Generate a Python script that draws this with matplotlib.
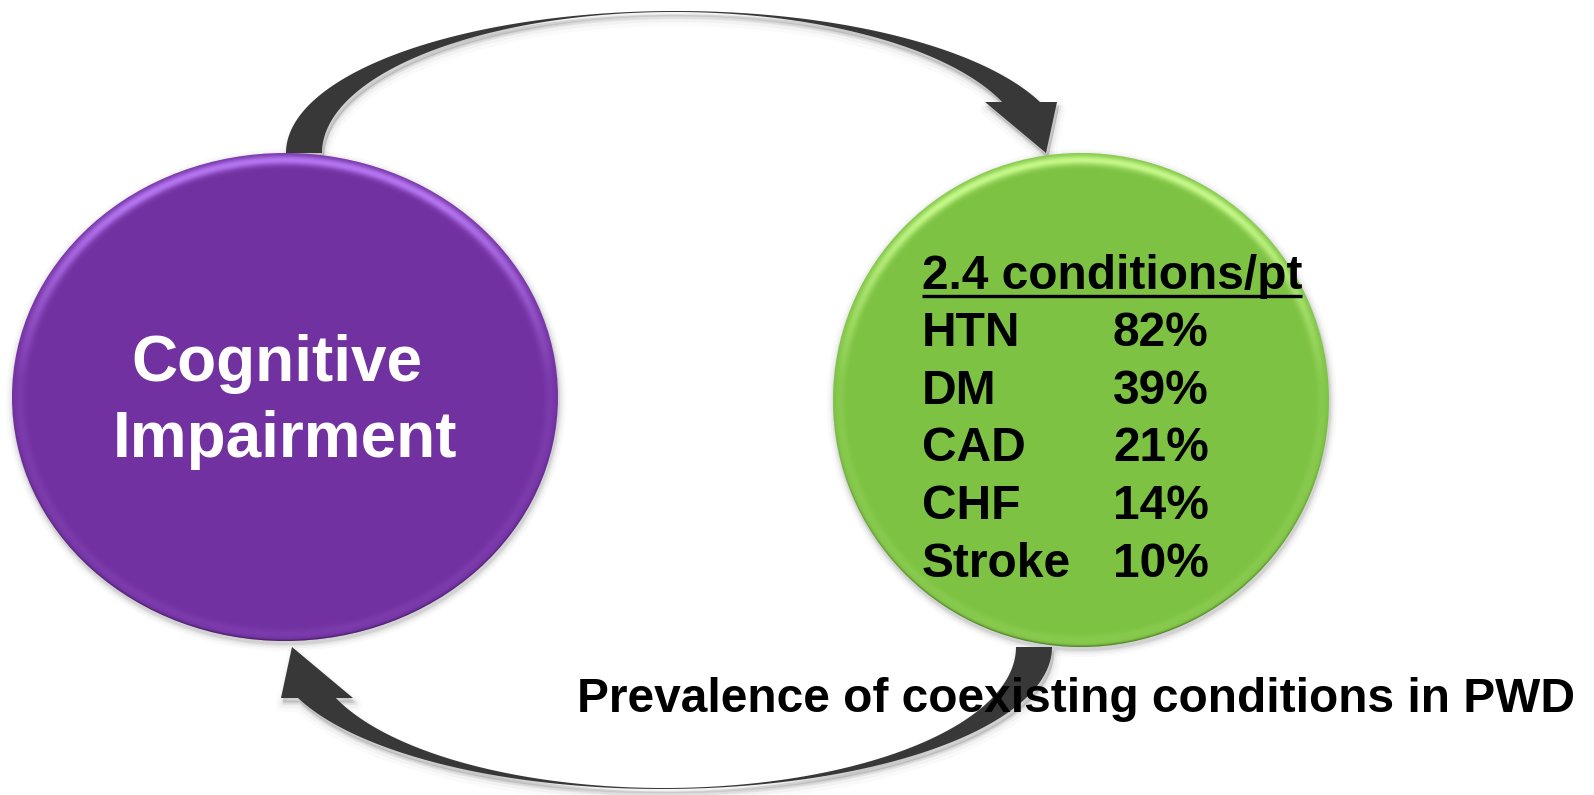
import matplotlib.pyplot as plt
import numpy as np
from matplotlib.colors import to_rgb
from matplotlib.patches import Ellipse, Polygon

W, H = 1594, 795

# left node
node_lines = ["Cognitive", "Impairment"]

# coexisting conditions in people with dementia
conditions_per_pt = 2.4
conditions = ["HTN", "DM", "CAD", "CHF", "Stroke"]
prevalence = [82, 39, 21, 14, 10]

caption = "Prevalence of coexisting conditions in PWD"

PURPLE = "#7131a0"
PURPLE_RIM = "#b878f4"
GREEN = "#7dc243"
GREEN_RIM = "#c8fa8c"
ARROW = "#383838"

plt.rcParams["font.family"] = ["Liberation Sans", "DejaVu Sans"]

fig = plt.figure(figsize=(W / 100, H / 100), dpi=100)
ax = fig.add_axes((0, 0, 1, 1))
ax.axis("off")


def bubble(cx, cy, rx, ry, color, rim):
    """Filled ellipse with a soft drop shadow and a light bevel on the rim."""
    for grow, alpha in [(14, 0.025), (9, 0.035), (5, 0.05), (2, 0.07)]:
        ax.add_patch(Ellipse((cx + 1, cy + 3), 2 * rx + grow, 2 * ry + grow,
                             fc="black", ec="none", alpha=alpha, zorder=1))
    body = Ellipse((cx, cy), 2 * rx, 2 * ry, fc=color, ec="none", zorder=3)
    ax.add_patch(body)

    xs = np.arange(int(cx - rx), int(cx + rx) + 1) + 0.5
    ys = np.arange(int(cy - ry), int(cy + ry) + 1) + 0.5
    X, Y = np.meshgrid(xs, ys)
    r = np.hypot((X - cx) / rx, (Y - cy) / ry)
    depth = (1 - r) * min(rx, ry)
    band = np.exp(-((depth - 7.0) / 5.0) ** 2)
    weight = np.clip((cy - Y) / ry * 1.4 - 0.1, 0, 1) * 0.85 + 0.15
    edge = np.exp(-(depth / 1.6) ** 2) * np.clip((Y - cy) / ry, 0, 1)
    extent = (xs[0] - 0.5, xs[-1] + 0.5, ys[-1] + 0.5, ys[0] - 0.5)

    img = np.zeros(X.shape + (4,))
    img[..., :3] = to_rgb(rim)
    img[..., 3] = np.clip(band * weight * 0.95, 0, 1)
    im = ax.imshow(img, extent=extent, origin="upper", interpolation="bilinear", zorder=4)
    im.set_clip_path(body)

    dark = np.zeros(X.shape + (4,))
    dark[..., 3] = np.clip(edge * 0.35, 0, 1)
    im2 = ax.imshow(dark, extent=extent, origin="upper", interpolation="bilinear", zorder=4)
    im2.set_clip_path(body)


def arc(cx, cy, a, b, t0, t1, n=240):
    t = np.linspace(t0, t1, n)
    return np.column_stack([cx + a * np.cos(t), cy - b * np.sin(t)])


def crescent_arrow():
    """Curved arrow from the top of the left node to the top of the right one."""
    base_y = 102
    outer = (676, 153, 390, 142)
    inner = (674, 153, 352, 141)
    t_out = np.arcsin((outer[1] - base_y) / outer[3])
    t_in = np.arcsin((inner[1] - base_y) / inner[3])
    head = np.array([(1057, base_y), (1046, 153), (985, base_y)])
    return np.vstack([arc(*outer, np.pi, t_out), head, arc(*inner, t_in, np.pi)])


def draw_arrow(pts):
    for lw, alpha, dy in [(10, 0.018, 7), (6, 0.03, 6), (3, 0.045, 5), (0.5, 0.07, 4)]:
        ax.add_patch(Polygon(pts + np.array([2, dy]), closed=True, fc=(0, 0, 0, alpha),
                             ec=(0, 0, 0, alpha), lw=lw, joinstyle="round", zorder=1.5))
    ax.add_patch(Polygon(pts, closed=True, fc=ARROW, ec="none", zorder=2))


top = crescent_arrow()
# the return arrow is the same shape turned half a turn about the diagram centre
bottom = np.column_stack([1338 - top[:, 0], 800 - top[:, 1]])
draw_arrow(top)
draw_arrow(bottom)

bubble(285, 397, 273, 244, PURPLE, PURPLE_RIM)
bubble(1081, 400, 248, 247, GREEN, GREEN_RIM)

ax.set_xlim(0, W)
ax.set_ylim(H, 0)

# left node label
ax.text(277, 381, node_lines[0], ha="center", va="baseline", color="white",
        fontsize=46, fontweight="bold", zorder=6)
ax.text(285, 457, node_lines[1], ha="center", va="baseline", color="white",
        fontsize=46, fontweight="bold", zorder=6)

# right node: condition list
txt_kw = dict(ha="left", va="baseline", color="black", fontsize=34.5, fontweight="bold", zorder=6)
header = ax.text(922, 289, f"{conditions_per_pt} conditions/pt", **txt_kw)
for i, (name, pct) in enumerate(zip(conditions, prevalence)):
    y = 346 + i * 57.7
    ax.text(922, y, name, **txt_kw)
    ax.text(1113, y, f"{pct}%", **txt_kw)

fig.canvas.draw()
bb = header.get_window_extent().transformed(ax.transData.inverted())
ax.plot([bb.x0, bb.x1], [296, 296], color="black", lw=2.4, solid_capstyle="butt", zorder=6)

ax.text(577, 712, caption, **txt_kw)

fig.savefig("out.png", dpi=100)
